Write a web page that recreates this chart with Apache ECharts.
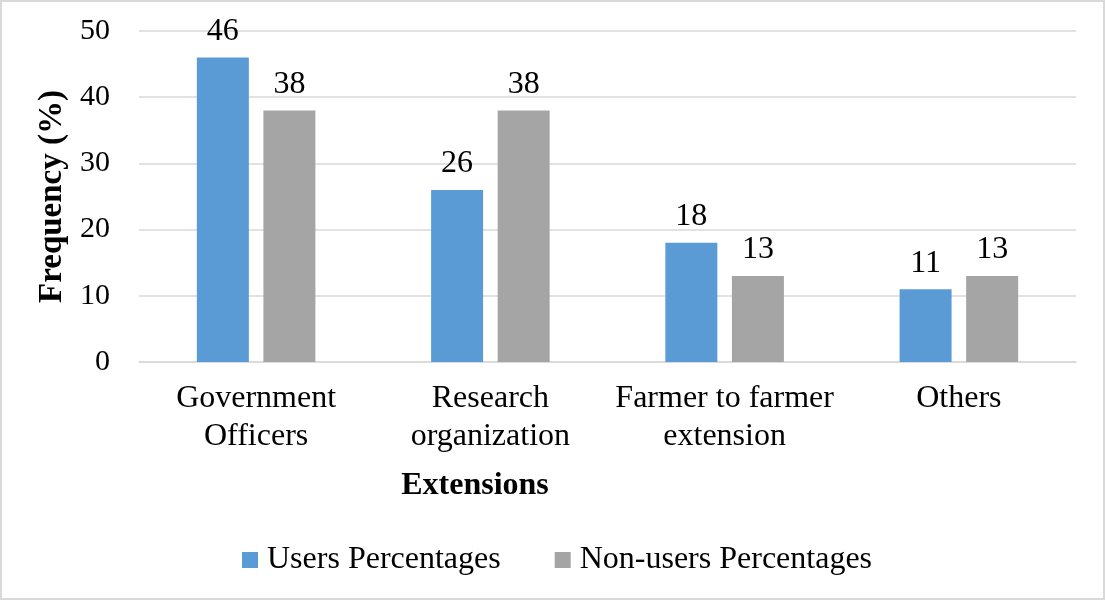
<!DOCTYPE html>
<html>
<head>
<meta charset="utf-8">
<script src="https://cdn.jsdelivr.net/npm/echarts@6/dist/echarts.min.js"></script>
<style>
  html, body { margin: 0; padding: 0; background: #fff; }
  #wrap { position: relative; width: 1105px; height: 600px; }
  #chart { width: 1105px; height: 600px; }
  #frame { position: absolute; left: 0; top: 0; width: 1105px; height: 600px;
           box-sizing: border-box; border: 2px solid #d9d9d9; pointer-events: none; }
</style>
</head>
<body>
<div id="wrap">
  <div id="chart"></div>
  <div id="frame"></div>
</div>
<script>
// Extension sources used by respondents
const categories = ['Government\nOfficers', 'Research\norganization', 'Farmer to farmer\nextension', 'Others'];
const usersPct = [46, 26, 18, 11];
const nonUsersPct = [38, 38, 13, 13];
const yTicks = { min: 0, max: 50, interval: 10 };

const FONT = '"Liberation Serif", "Times New Roman", serif';
const chart = echarts.init(document.getElementById('chart'), null, { renderer: 'canvas' });

const barLabel = {
  show: true,
  position: 'top',
  distance: 10,
  color: '#000',
  fontFamily: FONT,
  fontSize: 32
};

chart.setOption({
  animation: false,
  backgroundColor: '#fff',
  textStyle: { fontFamily: FONT, color: '#000' },
  grid: { left: 139, right: 29, top: 31, bottom: 238, containLabel: false },
  legend: {
    left: 237,
    top: 539,
    itemWidth: 16,
    itemHeight: 16,
    itemGap: 54,
    icon: 'rect',
    textStyle: { fontFamily: FONT, fontSize: 32, color: '#000', padding: [0, 0, 0, 4] },
    data: ['Users Percentages', 'Non-users Percentages']
  },
  xAxis: {
    type: 'category',
    data: categories,
    axisLine: { show: true, lineStyle: { color: '#d9d9d9', width: 1.5 } },
    axisTick: { show: false },
    axisLabel: {
      margin: 18,
      fontFamily: FONT,
      fontSize: 32,
      lineHeight: 38,
      color: '#000',
      interval: 0
    }
  },
  yAxis: {
    type: 'value',
    min: yTicks.min,
    max: yTicks.max,
    interval: yTicks.interval,
    name: 'Frequency (%)',
    nameLocation: 'middle',
    nameGap: 58,
    nameRotate: 90,
    nameTextStyle: { fontFamily: FONT, fontSize: 33, fontWeight: 'bold', color: '#000' },
    axisLine: { show: false },
    axisTick: { show: false },
    splitLine: { lineStyle: { color: '#d9d9d9', width: 1.5 } },
    axisLabel: { margin: 29, fontFamily: FONT, fontSize: 30, color: '#000' }
  },
  graphic: [{
    type: 'text',
    x: 475,
    y: 486,
    style: {
      text: 'Extensions',
      font: 'bold 32px ' + FONT,
      fill: '#000',
      textAlign: 'center',
      textVerticalAlign: 'middle'
    }
  }],
  series: [
    {
      name: 'Users Percentages',
      type: 'bar',
      data: usersPct,
      barWidth: 52,
      barGap: '28%',
      itemStyle: { color: '#5b9bd5' },
      label: barLabel
    },
    {
      name: 'Non-users Percentages',
      type: 'bar',
      data: nonUsersPct,
      barWidth: 52,
      itemStyle: { color: '#a5a5a5' },
      label: barLabel
    }
  ]
});
</script>
</body>
</html>
